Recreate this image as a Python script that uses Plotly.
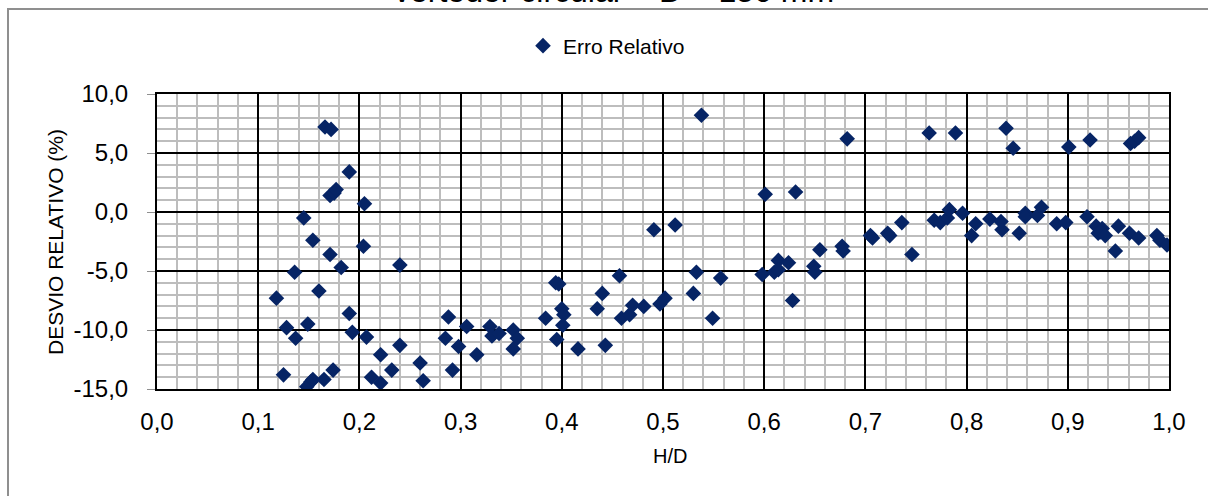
import plotly.graph_objects as go

# H/D ratio and relative deviation (%) for each measurement
h_d = [
    0.118, 0.125, 0.128, 0.136, 0.137, 0.145, 0.149, 0.148, 0.152, 0.154,
    0.154, 0.160, 0.166, 0.172, 0.165, 0.171, 0.171, 0.175, 0.177, 0.174,
    0.182, 0.190, 0.190, 0.193, 0.205, 0.204, 0.207, 0.212, 0.221, 0.221,
    0.232, 0.240, 0.240, 0.260, 0.263, 0.288, 0.285, 0.292, 0.298, 0.306,
    0.316, 0.329, 0.331, 0.338, 0.352, 0.356, 0.352, 0.384, 0.394, 0.397,
    0.395, 0.400, 0.402, 0.401, 0.416, 0.435, 0.440, 0.443, 0.457, 0.459,
    0.467, 0.470, 0.481, 0.491, 0.497, 0.502, 0.512, 0.533, 0.530, 0.538,
    0.549, 0.557, 0.601, 0.631, 0.598, 0.610, 0.614, 0.614, 0.624, 0.628,
    0.655, 0.649, 0.650, 0.682, 0.677, 0.678, 0.705, 0.707, 0.722, 0.724,
    0.736, 0.746, 0.763, 0.789, 0.768, 0.774, 0.781, 0.783, 0.796, 0.805,
    0.809, 0.823, 0.834, 0.835, 0.839, 0.846, 0.852, 0.858, 0.858, 0.870,
    0.874, 0.889, 0.898, 0.901, 0.922, 0.919, 0.928, 0.930, 0.934, 0.932,
    0.937, 0.947, 0.950, 0.961, 0.962, 0.966, 0.970, 0.970, 0.988, 0.991,
    0.998,
]
desvio = [
    -7.3, -13.8, -9.8, -5.1, -10.7, -0.5, -9.5, -14.8, -14.4, -14.2,
    -2.4, -6.7, 7.2, 7.0, -14.2, -3.6, 1.4, 1.6, 1.9, -13.4,
    -4.7, 3.4, -8.6, -10.2, 0.7, -2.9, -10.6, -14.0, -12.1, -14.5,
    -13.4, -4.5, -11.3, -12.8, -14.3, -8.9, -10.7, -13.4, -11.4, -9.7,
    -12.1, -9.7, -10.5, -10.3, -10.0, -10.7, -11.6, -9.0, -6.0, -6.1,
    -10.8, -8.2, -8.7, -9.6, -11.6, -8.2, -6.9, -11.3, -5.4, -9.0,
    -8.7, -7.9, -8.0, -1.5, -7.8, -7.3, -1.1, -5.1, -6.9, 8.2,
    -9.0, -5.6, 1.5, 1.7, -5.3, -5.1, -4.1, -4.9, -4.3, -7.5,
    -3.2, -4.6, -5.1, 6.2, -2.9, -3.3, -2.0, -2.2, -1.8, -2.0,
    -0.9, -3.6, 6.7, 6.7, -0.7, -0.9, -0.5, 0.2, -0.1, -2.0,
    -1.0, -0.6, -0.8, -1.5, 7.1, 5.4, -1.8, -0.1, -0.4, -0.3,
    0.4, -1.0, -0.9, 5.5, 6.1, -0.4, -1.2, -1.8, -1.4, -1.7,
    -2.0, -3.3, -1.2, -1.8, 5.8, 6.0, 6.3, -2.2, -2.0, -2.4,
    -2.8,
]

# axis ticks and their labels (comma decimal, plain hyphen for negatives)
x_ticks = [0.0, 0.1, 0.2, 0.3, 0.4, 0.5, 0.6, 0.7, 0.8, 0.9, 1.0]
x_tick_labels = ["0,0", "0,1", "0,2", "0,3", "0,4", "0,5",
                 "0,6", "0,7", "0,8", "0,9", "1,0"]
y_ticks = [-15, -10, -5, 0, 5, 10]
y_tick_labels = ["-15,0", "-10,0", "-5,0", "0,0", "5,0", "10,0"]

series_name = "Erro Relativo"
chart_title = "vertedor circular – D = 150 mm"
x_title = "H/D"
y_title = "DESVIO RELATIVO (%)"

FONT = "Liberation Sans, Arial, sans-serif"
NAVY = "#062465"

fig = go.Figure()
fig.add_trace(go.Scatter(
    x=h_d, y=desvio, mode="markers", name=series_name,
    marker=dict(symbol="diamond", size=12, color=NAVY, line=dict(width=0)),
))

W, H = 1208, 496
L, R, T, B = 157, 39, 94, 107
pw, ph = W - L - R, H - T - B


def px_x(p):
    return (p - L) / pw


def px_y(p):
    return (H - B - p) / ph


fig.update_layout(
    width=W, height=H,
    margin=dict(l=L, r=R, t=T, b=B, pad=0),
    paper_bgcolor="white", plot_bgcolor="white",
    font=dict(family=FONT, color="black", size=21),
    showlegend=True,
    legend=dict(
        orientation="h", x=px_x(523), xanchor="left",
        y=px_y(46), yanchor="middle",
        font=dict(size=21, family=FONT), itemwidth=30,
        bgcolor="rgba(0,0,0,0)",
    ),
    xaxis=dict(
        range=[0, 1], tickmode="array", tickvals=x_ticks, ticktext=x_tick_labels,
        showgrid=True, gridcolor="black", gridwidth=2,
        minor=dict(dtick=0.02, tick0=0, showgrid=True,
                   gridcolor="#bdbdbd", gridwidth=2),
        showline=True, linecolor="black", linewidth=2, mirror=True,
        ticks="", zeroline=False,
        tickfont=dict(size=24, family=FONT),
        ticklabelstandoff=10,
    ),
    yaxis=dict(
        range=[-15, 10], tickmode="array", tickvals=y_ticks, ticktext=y_tick_labels,
        showgrid=True, gridcolor="black", gridwidth=2,
        minor=dict(dtick=1, tick0=0, showgrid=True,
                   gridcolor="#bdbdbd", gridwidth=2),
        showline=True, linecolor="black", linewidth=2, mirror=True,
        ticks="outside", ticklen=8, tickcolor="#8f8f8f", tickwidth=1,
        zeroline=False,
        tickfont=dict(size=24, family=FONT),
        ticklabelstandoff=14,
    ),
    shapes=[
        # chart area border
        dict(type="rect", xref="paper", yref="paper",
             x0=px_x(8), x1=px_x(1240), y0=px_y(520), y1=px_y(9),
             line=dict(color="#8f8f8f", width=2), fillcolor="rgba(0,0,0,0)",
             layer="below"),
    ],
    annotations=[
        dict(text=chart_title, xref="paper", yref="paper",
             x=px_x(614), y=px_y(11), xanchor="center", yanchor="bottom",
             showarrow=False, font=dict(size=32, family=FONT)),
        dict(text=x_title, xref="paper", yref="paper",
             x=px_x(670), y=px_y(456), xanchor="center", yanchor="middle",
             showarrow=False, font=dict(size=20, family=FONT)),
        dict(text=y_title, xref="paper", yref="paper", textangle=-90,
             x=px_x(55), y=px_y(242), xanchor="center", yanchor="middle",
             showarrow=False, font=dict(size=21, family=FONT)),
    ],
)

fig.write_html("out.html")
